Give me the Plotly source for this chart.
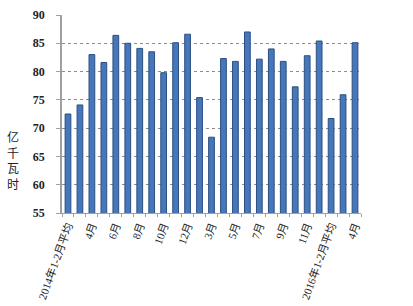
import plotly.graph_objects as go

categories = ["2014年1-2月平均", "2014年3月", "2014年4月", "2014年5月", "2014年6月",
              "2014年7月", "2014年8月", "2014年9月", "2014年10月", "2014年11月",
              "2014年12月", "2015年1-2月平均", "2015年3月", "2015年4月", "2015年5月",
              "2015年6月", "2015年7月", "2015年8月", "2015年9月", "2015年10月",
              "2015年11月", "2015年12月", "2016年1-2月平均", "2016年3月", "2016年4月"]
tick_labels = ["2014年1-2月平均", "", "4月", "", "6月", "", "8月", "", "10月", "",
               "12月", "", "3月", "", "5月", "", "7月", "", "9月", "", "11月", "",
               "2016年1-2月平均", "", "4月"]
values = [72.5, 74.1, 83.0, 81.6, 86.4, 85.0, 84.1, 83.5, 79.8, 85.1,
          86.6, 75.4, 68.4, 82.3, 81.8, 87.0, 82.2, 84.0, 81.8, 77.3,
          82.8, 85.4, 71.7, 75.9, 85.1]
y_ticks = [55, 60, 65, 70, 75, 80, 85, 90]
y_title = "亿千瓦时"

fig = go.Figure(go.Bar(
    x=categories, y=values, width=0.48,
    marker=dict(color="#4677BA", line=dict(color="#2B4F80", width=1)),
))

fig.update_layout(
    width=413, height=306,
    margin=dict(l=62, r=52, t=15, b=93),
    paper_bgcolor="white", plot_bgcolor="white",
    showlegend=False,
    xaxis=dict(
        type="category", tickmode="array", tickvals=categories, ticktext=tick_labels,
        tickangle=-70, tickson="boundaries", ticks="outside", ticklen=3,
        tickcolor="#A0A0A0", showline=True, linecolor="#A0A0A0", linewidth=1,
        showgrid=False, ticklabelstandoff=1, automargin=False,
        tickfont=dict(family="Liberation Serif, Noto Sans CJK SC", size=11, color="#222"),
    ),
    yaxis=dict(
        range=[55, 90], tickmode="array", tickvals=y_ticks,
        ticktext=["<b>%d</b>" % t for t in y_ticks],
        ticks="outside", ticklen=4, automargin=False,
        tickcolor="#A0A0A0", showline=True, linecolor="#A0A0A0", linewidth=1.5,
        showgrid=True, gridcolor="#8C8C8C", griddash="dot", gridwidth=1,
        zeroline=False, ticklabelstandoff=9,
        tickfont=dict(family="Liberation Serif", size=12, color="#222"),
    ),
    annotations=[dict(
        text="<br>".join(list(y_title)), xref="paper", yref="paper",
        x=-0.165, y=0.27, xanchor="center", yanchor="middle", showarrow=False,
        font=dict(family="Noto Sans CJK SC", size=12, color="#222"),
    )],
)

fig.write_html("out.html")
